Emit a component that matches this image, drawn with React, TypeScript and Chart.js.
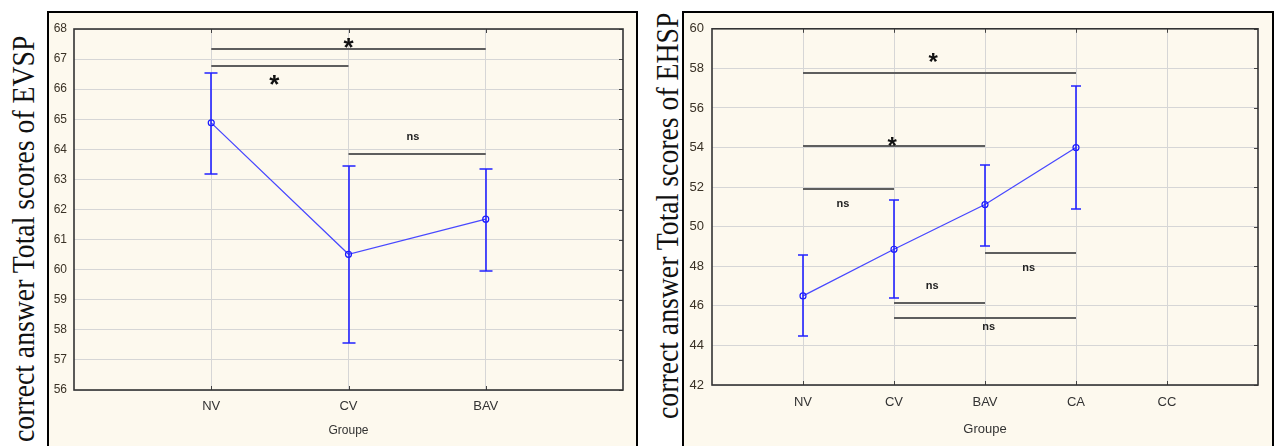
import React, { useEffect, useLayoutEffect, useRef } from 'react';
import { Chart, registerables } from 'chart.js';

Chart.register(...registerables);

// ---------- Left panel data (EVSP) ----------
const evspGroups = ['NV', 'CV', 'BAV'];
const evspMeans = [64.88, 60.51, 61.68];
const evspLower = [63.18, 57.56, 59.94];
const evspUpper = [66.53, 63.44, 63.36];
const evspSigFrom = [1, 1, 2];
const evspSigTo = [3, 2, 3];
const evspSigLevel = [67.34, 66.78, 63.86];
const evspSigText = ['*', '*', 'ns'];
const evspSigTextX = [2.0, 1.46, 2.47];
const evspSigTextY = [67.62, 66.38, 64.4];
const evspYMin = 56;
const evspYMax = 68;
const evspYStep = 1;

// ---------- Right panel data (EHSP) ----------
const ehspGroups = ['NV', 'CV', 'BAV', 'CA', 'CC'];
const ehspMeans = [46.5, 48.86, 51.12, 54.0];
const ehspLower = [44.47, 46.38, 49.0, 50.9];
const ehspUpper = [48.57, 51.34, 53.14, 57.09];
const ehspSigFrom = [1, 1, 1, 2, 2, 3];
const ehspSigTo = [4, 3, 2, 3, 4, 4];
const ehspSigLevel = [57.75, 54.08, 51.92, 46.13, 45.39, 48.69];
const ehspSigText = ['*', '*', 'ns', 'ns', 'ns', 'ns'];
const ehspSigTextX = [2.43, 1.98, 1.44, 2.42, 3.04, 3.48];
const ehspSigTextY = [58.6, 54.39, 51.12, 47.02, 44.92, 47.9];
const ehspYMin = 42;
const ehspYMax = 60;
const ehspYStep = 2;

const xTitle = 'Groupe';
const evspYTitle = 'correct answer Total scores of EVSP';
const ehspYTitle = 'correct answer Total scores of EHSP';

const SANS = "'Liberation Sans', Arial, sans-serif";

const overlayPlugin = {
  id: 'overlay',
  beforeDatasetsDraw(chart: any, _args: any, o: any) {
    const { ctx, chartArea: a, scales } = chart;
    const xs = scales.x;
    const ys = scales.y;
    ctx.save();
    ctx.strokeStyle = '#444';
    ctx.lineWidth = 1;
    for (let v = o.yMin; v <= o.yMax + 1e-9; v += o.yStep) {
      const py = Math.round(ys.getPixelForValue(v)) + 0.5;
      ctx.beginPath();
      ctx.moveTo(a.right - 4, py);
      ctx.lineTo(a.right, py);
      ctx.stroke();
    }
    for (let i = 1; i <= o.nGroups; i++) {
      const px = Math.round(xs.getPixelForValue(i)) + 0.5;
      ctx.beginPath();
      ctx.moveTo(px, a.top);
      ctx.lineTo(px, a.top + 4);
      ctx.moveTo(px, a.bottom);
      ctx.lineTo(px, a.bottom - 4);
      ctx.stroke();
    }
    ctx.strokeStyle = '#333';
    ctx.lineWidth = 1.6;
    ctx.strokeRect(a.left, a.top, a.right - a.left, a.bottom - a.top);
    ctx.strokeStyle = '#5e5e5e';
    ctx.lineWidth = 2;
    for (let i = 0; i < o.sigFrom.length; i++) {
      const py = Math.round(ys.getPixelForValue(o.sigLevel[i]));
      ctx.beginPath();
      ctx.moveTo(xs.getPixelForValue(o.sigFrom[i]), py);
      ctx.lineTo(xs.getPixelForValue(o.sigTo[i]), py);
      ctx.stroke();
    }
    ctx.restore();
  },
  afterDatasetsDraw(chart: any, _args: any, o: any) {
    const { ctx, scales } = chart;
    const xs = scales.x;
    const ys = scales.y;
    ctx.save();
    ctx.strokeStyle = '#2222ff';
    ctx.lineWidth = 1.6;
    for (let i = 0; i < o.lower.length; i++) {
      const px = Math.round(xs.getPixelForValue(i + 1));
      const pl = Math.round(ys.getPixelForValue(o.lower[i]));
      const pu = Math.round(ys.getPixelForValue(o.upper[i]));
      ctx.beginPath();
      ctx.moveTo(px, pl);
      ctx.lineTo(px, pu);
      ctx.moveTo(px - o.cap, pl);
      ctx.lineTo(px + o.cap, pl);
      ctx.moveTo(px - o.cap, pu);
      ctx.lineTo(px + o.cap, pu);
      ctx.stroke();
    }
    ctx.textAlign = 'center';
    ctx.textBaseline = 'alphabetic';
    for (let i = 0; i < o.sigText.length; i++) {
      const t = o.sigText[i];
      const px = xs.getPixelForValue(o.sigTextX[i]);
      const py = ys.getPixelForValue(o.sigTextY[i]);
      if (t === '*') {
        ctx.font = `bold ${o.starSize}px ${SANS}`;
        ctx.fillStyle = '#111';
        ctx.fillText(t, px, py + o.starSize * 0.58);
      } else {
        ctx.font = `bold ${o.nsSize}px ${SANS}`;
        ctx.fillStyle = '#222';
        ctx.fillText(t, px, py + o.nsSize * 0.27);
      }
    }
    ctx.restore();
  },
};

type PanelCfg = {
  groups: string[];
  means: number[];
  lower: number[];
  upper: number[];
  sigFrom: number[];
  sigTo: number[];
  sigLevel: number[];
  sigText: string[];
  sigTextX: number[];
  sigTextY: number[];
  yMin: number;
  yMax: number;
  yStep: number;
  yAxisW: number;
  xAxisH: number;
  padTop: number;
  padRight: number;
  yTickSize: number;
  yTickPad: number;
  xTickSize: number;
  xTickPad: number;
  titleSize: number;
  titlePadB: number;
  cap: number;
  starSize: number;
  nsSize: number;
};

function buildConfig(p: PanelCfg): any {
  return {
    type: 'line',
    data: {
      datasets: [
        {
          data: p.means.map((m, i) => ({ x: i + 1, y: m })),
          borderColor: '#4848ff',
          borderWidth: 1.3,
          pointRadius: 3,
          pointBorderColor: '#1818ff',
          pointBackgroundColor: 'rgba(0,0,0,0)',
          pointBorderWidth: 1.2,
          tension: 0,
        },
      ],
    },
    options: {
      responsive: false,
      animation: false,
      devicePixelRatio: 1,
      layout: { padding: { top: p.padTop, right: p.padRight, left: 0, bottom: 0 } },
      plugins: {
        legend: { display: false },
        tooltip: { enabled: false },
        overlay: {
          nGroups: p.groups.length,
          lower: p.lower,
          upper: p.upper,
          sigFrom: p.sigFrom,
          sigTo: p.sigTo,
          sigLevel: p.sigLevel,
          sigText: p.sigText,
          sigTextX: p.sigTextX,
          sigTextY: p.sigTextY,
          yMin: p.yMin,
          yMax: p.yMax,
          yStep: p.yStep,
          cap: p.cap,
          starSize: p.starSize,
          nsSize: p.nsSize,
        },
      },
      scales: {
        x: {
          type: 'linear',
          min: 0,
          max: p.groups.length + 1,
          afterFit: (s: any) => {
            s.height = p.xAxisH;
          },
          ticks: {
            stepSize: 1,
            autoSkip: false,
            maxRotation: 0,
            padding: p.xTickPad,
            color: '#333',
            font: { family: SANS, size: p.xTickSize },
            callback: (v: any) => p.groups[Number(v) - 1] ?? '',
          },
          grid: {
            drawTicks: false,
            lineWidth: 1,
            color: (c: any) =>
              c.tick && c.tick.value > 0 && c.tick.value <= p.groups.length ? '#d6d6d6' : 'rgba(0,0,0,0)',
          },
          border: { display: false },
          title: {
            display: true,
            text: xTitle,
            color: '#333',
            font: { family: SANS, size: p.titleSize },
            padding: { top: 0, bottom: p.titlePadB },
          },
        },
        y: {
          type: 'linear',
          min: p.yMin,
          max: p.yMax,
          afterFit: (s: any) => {
            s.width = p.yAxisW;
          },
          ticks: {
            stepSize: p.yStep,
            padding: p.yTickPad,
            color: '#3a3226',
            font: { family: SANS, size: p.yTickSize },
          },
          grid: { drawTicks: false, lineWidth: 1, color: '#d6d6d6' },
          border: { display: false },
        },
      },
    },
    plugins: [overlayPlugin],
  };
}

const leftCfg: PanelCfg = {
  groups: evspGroups,
  means: evspMeans,
  lower: evspLower,
  upper: evspUpper,
  sigFrom: evspSigFrom,
  sigTo: evspSigTo,
  sigLevel: evspSigLevel,
  sigText: evspSigText,
  sigTextX: evspSigTextX,
  sigTextY: evspSigTextY,
  yMin: evspYMin,
  yMax: evspYMax,
  yStep: evspYStep,
  yAxisW: 24,
  xAxisH: 56,
  padTop: 16,
  padRight: 13,
  yTickSize: 12,
  yTickPad: 7,
  xTickSize: 13,
  xTickPad: 9,
  titleSize: 12,
  titlePadB: 8,
  cap: 6.5,
  starSize: 26,
  nsSize: 11,
};

const rightCfg: PanelCfg = {
  groups: ehspGroups,
  means: ehspMeans,
  lower: ehspLower,
  upper: ehspUpper,
  sigFrom: ehspSigFrom,
  sigTo: ehspSigTo,
  sigLevel: ehspSigLevel,
  sigText: ehspSigText,
  sigTextX: ehspSigTextX,
  sigTextY: ehspSigTextY,
  yMin: ehspYMin,
  yMax: ehspYMax,
  yStep: ehspYStep,
  yAxisW: 27,
  xAxisH: 61,
  padTop: 15,
  padRight: 14,
  yTickSize: 13,
  yTickPad: 8,
  xTickSize: 13,
  xTickPad: 10,
  titleSize: 13,
  titlePadB: 9,
  cap: 5,
  starSize: 24,
  nsSize: 11,
};

function ChartCanvas({ cfg, left, top, width, height }: { cfg: PanelCfg; left: number; top: number; width: number; height: number }) {
  const ref = useRef<HTMLCanvasElement | null>(null);
  useEffect(() => {
    if (!ref.current) return;
    const chart = new Chart(ref.current, buildConfig(cfg));
    return () => chart.destroy();
  }, [cfg]);
  return (
    <canvas
      ref={ref}
      width={width}
      height={height}
      style={{ position: 'absolute', left, top, width, height, display: 'block' }}
    />
  );
}

function RotatedTitle({ text, left, top, length, size }: { text: string; left: number; top: number; length: number; size: number }) {
  const ref = useRef<HTMLDivElement | null>(null);
  useLayoutEffect(() => {
    const el = ref.current;
    if (!el) return;
    const w = el.offsetWidth || 1;
    el.style.transform = `rotate(-90deg) scaleX(${length / w})`;
  }, [text, length]);
  return (
    <div
      ref={ref}
      style={{
        position: 'absolute',
        left,
        top,
        transformOrigin: '0 0',
        transform: 'rotate(-90deg)',
        fontFamily: "'Liberation Serif', 'DejaVu Serif', serif",
        fontSize: size,
        lineHeight: 1,
        whiteSpace: 'nowrap',
        color: '#111',
      }}
    >
      {text}
    </div>
  );
}

export default function App() {
  const cream = '#fdf9ee';
  return (
    <div
      style={{
        position: 'fixed',
        left: 0,
        top: 0,
        width: 1279,
        height: 446,
        overflow: 'hidden',
        background: '#fff',
      }}
    >
      <div
        style={{
          position: 'absolute',
          left: 47,
          top: 11,
          width: 591,
          height: 450,
          boxSizing: 'border-box',
          border: '2px solid #000',
          background: cream,
        }}
      />
      <div
        style={{
          position: 'absolute',
          left: 682,
          top: 11,
          width: 592,
          height: 450,
          boxSizing: 'border-box',
          border: '2px solid #000',
          background: cream,
        }}
      />
      <ChartCanvas cfg={leftCfg} left={50} top={13} width={586} height={433} />
      <ChartCanvas cfg={rightCfg} left={685} top={13} width={587} height={433} />
      <RotatedTitle text={evspYTitle} left={8} top={442} length={406} size={31} />
      <RotatedTitle text={ehspYTitle} left={652} top={419} length={406} size={31} />
    </div>
  );
}
